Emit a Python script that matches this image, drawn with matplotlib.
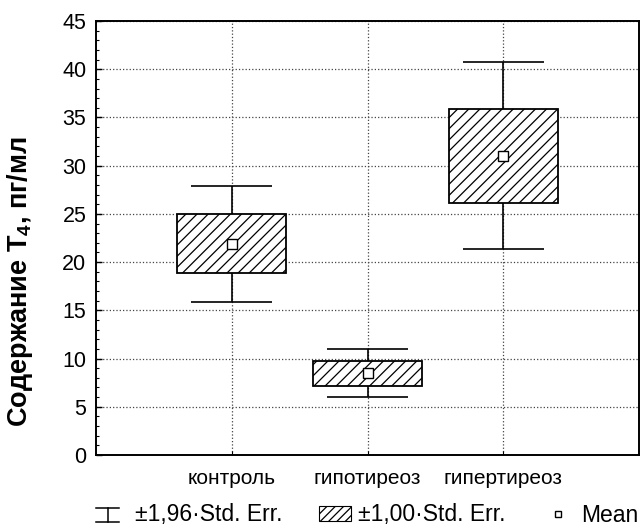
import matplotlib
matplotlib.use('Agg')
import matplotlib.pyplot as plt
from matplotlib.lines import Line2D
from matplotlib.patches import Rectangle
from matplotlib.legend_handler import HandlerBase

# --- данные ---
groups = ['контроль', 'гипотиреоз', 'гипертиреоз']
means = [21.9, 8.5, 31.0]
se_low = [18.9, 7.2, 26.1]     # mean - 1,00*SE
se_high = [25.0, 9.7, 35.9]    # mean + 1,00*SE
ci_low = [15.9, 6.0, 21.4]     # mean - 1,96*SE
ci_high = [27.9, 11.0, 40.7]   # mean + 1,96*SE

plt.rcParams['font.family'] = ['Liberation Sans', 'DejaVu Sans']
plt.rcParams['mathtext.fontset'] = 'custom'
plt.rcParams['mathtext.rm'] = 'Liberation Sans:bold'
plt.rcParams['mathtext.default'] = 'rm'
plt.rcParams['hatch.linewidth'] = 0.9


class WhiskerHandler(HandlerBase):
	# значок "I" для ±1,96·Std. Err.
	def create_artists(self, legend, orig, xd, yd, w, h, fontsize, trans):
		w = w * 0.72
		top = yd + h
		mid = xd + w / 2
		a = Line2D([xd, xd + w], [top, top], color='k', lw=1.1)
		b = Line2D([xd, xd + w], [yd, yd], color='k', lw=1.1)
		c = Line2D([mid, mid], [yd, top], color='k', lw=1.1)
		for art in (a, b, c):
			art.set_transform(trans)
		return [a, b, c]


def main():
	fig = plt.figure(figsize=(6.41, 5.29), dpi=100)
	ax = fig.add_axes([96 / 641, 1 - 455 / 529, 543 / 641, 434 / 529])

	x = list(range(1, len(groups) + 1))
	heights = [h - l for h, l in zip(se_high, se_low)]

	ax.vlines(x, ci_low, se_low, color='k', lw=1.2, zorder=2)
	ax.vlines(x, se_high, ci_high, color='k', lw=1.2, zorder=2)
	ax.hlines(ci_low, [i - 0.3 for i in x], [i + 0.3 for i in x], color='k', lw=1.2, zorder=2)
	ax.hlines(ci_high, [i - 0.3 for i in x], [i + 0.3 for i in x], color='k', lw=1.2, zorder=2)
	ax.bar(x, heights, bottom=se_low, width=0.8, color='white', edgecolor='k',
		hatch='///', lw=1.3, zorder=3)
	ax.plot(x, means, 's', ms=6.5, mfc='white', mec='k', mew=1.0, zorder=4)

	ax.set_xlim(0, 4)
	ax.set_ylim(0, 45)
	ax.set_xticks(x)
	ax.set_xticklabels(groups, fontsize=15)
	ax.set_yticks(range(0, 46, 5))
	ax.set_yticks(range(0, 46), minor=True)
	ax.tick_params(axis='y', labelsize=15.5, direction='in', length=4, width=1, pad=7)
	ax.tick_params(axis='y', which='minor', direction='in', length=2, width=0.8)
	ax.tick_params(axis='x', direction='in', length=3, width=0.8, pad=10)
	ax.grid(True, linestyle=':', color='#444444', lw=0.9)
	ax.set_axisbelow(True)
	for s in ax.spines.values():
		s.set_linewidth(1.4)

	ax.set_ylabel('Содержание T$_4$, пг/мл', fontsize=19.5, fontweight='bold')
	ax.yaxis.set_label_coords(-0.112, 0.40)

	handles = [Line2D([], []),
		Rectangle((0, 0), 1, 1, facecolor='white', edgecolor='k', hatch='////', lw=0.8),
		Line2D([], [], ls='none', marker='s', ms=5, mfc='white', mec='k', mew=1.0)]
	labels = ['±1,96·Std. Err.', '±1,00·Std. Err.', 'Mean']
	fig.legend(handles, labels, loc='center', bbox_to_anchor=(0.573, 1 - 515 / 529),
		ncol=3, frameon=False, fontsize=16.5, handlelength=1.4, handleheight=0.6,
		handletextpad=0.3, columnspacing=1.6, borderpad=0, borderaxespad=0,
		handler_map={handles[0]: WhiskerHandler()})

	fig.savefig('out.png', dpi=100)


if __name__ == '__main__':
	main()
